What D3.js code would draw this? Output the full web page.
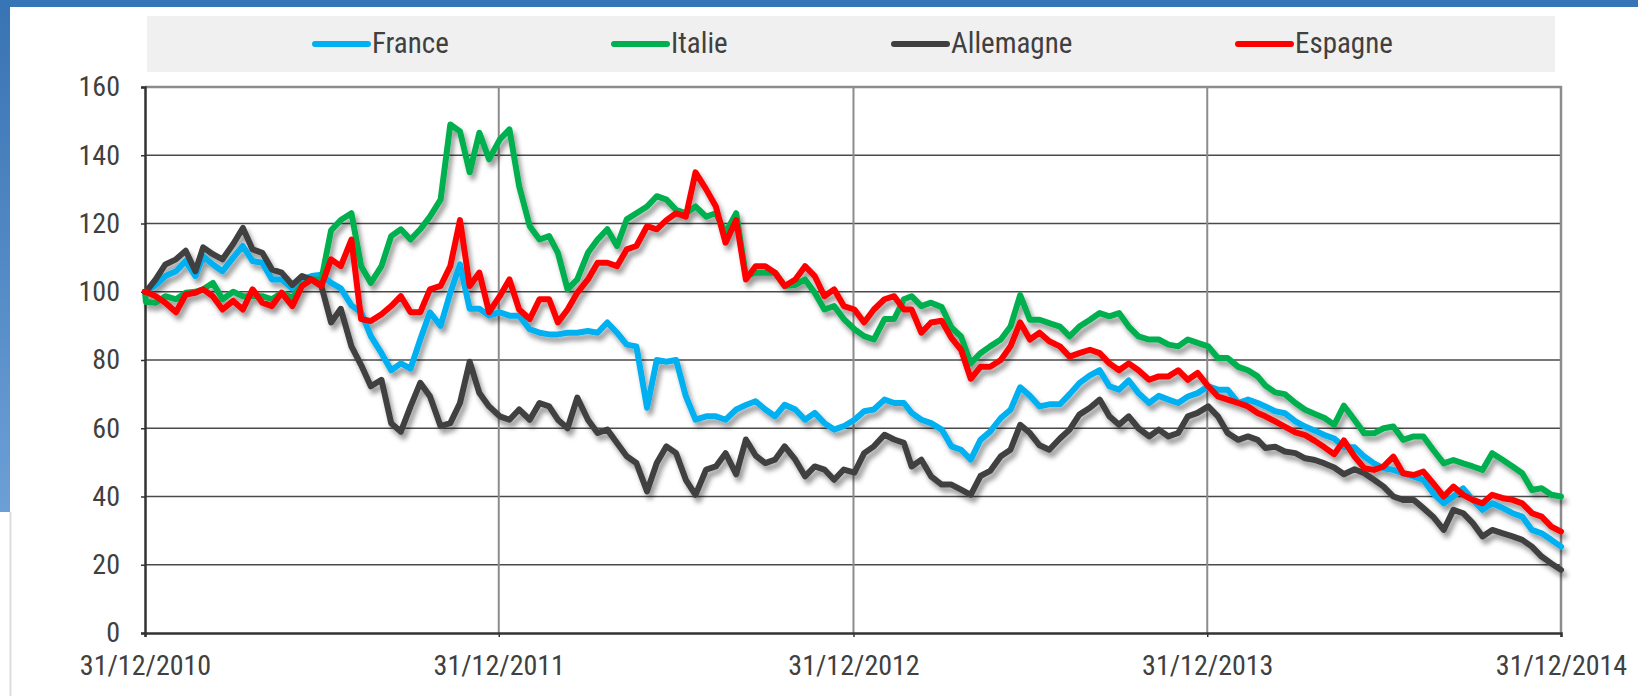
<!DOCTYPE html>
<html>
<head>
<meta charset="utf-8">
<script src="https://cdn.jsdelivr.net/npm/d3@7"></script>
<style>
  body { margin: 0; background: #fff; }
  svg text { font-family: "Liberation Sans Narrow", "Arial Narrow", "Roboto Condensed", sans-serif; fill: #404040; }
</style>
</head>
<body>
<div id="chart"></div>
<script>
// dates of the readings (1st, 11th, 21st of every month)
var dates = [
  "2010-12-31",
  "2011-01-01","2011-01-11","2011-01-21","2011-02-01","2011-02-11","2011-02-21","2011-03-01","2011-03-11","2011-03-21",
  "2011-04-01","2011-04-11","2011-04-21","2011-05-01","2011-05-11","2011-05-21","2011-06-01","2011-06-11","2011-06-21",
  "2011-07-01","2011-07-11","2011-07-21","2011-08-01","2011-08-11","2011-08-21","2011-09-01","2011-09-11","2011-09-21",
  "2011-10-01","2011-10-11","2011-10-21","2011-11-01","2011-11-11","2011-11-21","2011-12-01","2011-12-11","2011-12-21",
  "2012-01-01","2012-01-11","2012-01-21","2012-02-01","2012-02-11","2012-02-21","2012-03-01","2012-03-11","2012-03-21",
  "2012-04-01","2012-04-11","2012-04-21","2012-05-01","2012-05-11","2012-05-21","2012-06-01","2012-06-11","2012-06-21",
  "2012-07-01","2012-07-11","2012-07-21","2012-08-01","2012-08-11","2012-08-21","2012-09-01","2012-09-11","2012-09-21",
  "2012-10-01","2012-10-11","2012-10-21","2012-11-01","2012-11-11","2012-11-21","2012-12-01","2012-12-11","2012-12-21",
  "2013-01-01","2013-01-11","2013-01-21","2013-02-01","2013-02-11","2013-02-21","2013-03-01","2013-03-11","2013-03-21",
  "2013-04-01","2013-04-11","2013-04-21","2013-05-01","2013-05-11","2013-05-21","2013-06-01","2013-06-11","2013-06-21",
  "2013-07-01","2013-07-11","2013-07-21","2013-08-01","2013-08-11","2013-08-21","2013-09-01","2013-09-11","2013-09-21",
  "2013-10-01","2013-10-11","2013-10-21","2013-11-01","2013-11-11","2013-11-21","2013-12-01","2013-12-11","2013-12-21",
  "2014-01-01","2014-01-11","2014-01-21","2014-02-01","2014-02-11","2014-02-21","2014-03-01","2014-03-11","2014-03-21",
  "2014-04-01","2014-04-11","2014-04-21","2014-05-01","2014-05-11","2014-05-21","2014-06-01","2014-06-11","2014-06-21",
  "2014-07-01","2014-07-11","2014-07-21","2014-08-01","2014-08-11","2014-08-21","2014-09-01","2014-09-11","2014-09-21",
  "2014-10-01","2014-10-11","2014-10-21","2014-11-01","2014-11-11","2014-11-21","2014-12-01","2014-12-11","2014-12-21",
  "2014-12-31"
];

var france = [
  100,
  100,102,104.6, 106,109,104.6, 110.4,108,106, 110,113.4,109, 108.5,103.6,103.6, 101,103.6,104.6,
  105,102.6,101, 96,94,87, 82,77,79, 77.5,86,94, 90,99.7,108, 95,95,93,
  94,93,93, 89,88,87.5, 87.5,88,88, 88.5,88,91, 88,84.5,84, 66,80,79.5,
  80,69.4,62.5, 63.5,63.5,62.5, 65.5,66.8,67.9, 65.5,63.5,66.9, 65.5,62.5,64.5, 61.5,59.6,60.6,
  62.5,65,65.5, 68.4,67.4,67.4, 64.5,62.5,61.5, 59.6,54.7,53.7, 50.8,56.6,59, 63,65.4,72,
  69.5,66.4,67, 67,70,73.2, 75.5,77,72.3, 71.3,74,70.3, 67.4,69.5,68.4, 67.4,69.3,70.3,
  72.3,71.3,71.3, 67.4,68.4,67.4, 66.4,65,64.4, 62,60.5,59.3, 58,57,54.5, 54.4,51.7,49.7,
  48.3,47.8,46.8, 45.8,44.9,41, 38,40,42.4, 39,36.1,38, 36.6,35.1,34.1, 30.2,29.2,27.3,
  25.3
];

var italie = [
  100,
  97,96.8,98.7, 97.8,99.7,100, 100.7,102.6,97.8, 100,98.7,98.7, 98.7,97.8,99.7, 98.2,102,103.6,
  103.6,118,121, 123,107.5,102.6, 107.5,116.3,118.3, 115.3,118.3,122, 127,149,147, 135,146.6,138.8,
  144.6,147.6,131, 119.2,115.3,116.3, 111.4,100.7,103.6, 111.4,115.3,118.3, 113.4,121.2,123, 125,128,127,
  124,123,125, 122,123,117.3, 123,104.6,105.6, 105.6,105.6,101.7, 102,103.6,99.7, 94.8,95.8,92,
  89,87,86, 92,92,97.8, 98.7,95.8,96.8, 95.5,89.5,86.9, 79,82,84, 86,89.8,99,
  91.8,91.8,90.8, 89.8,86.9,89.8, 91.8,93.75,92.8, 93.75,89.8,86.9, 86,86,84.5, 84,86,85,
  84,80.6,80.6, 78,77,75.2, 72.5,70.5,70, 67.4,65.4,64.2, 63,61,66.6, 62.4,58.5,58.5,
  60,60.5,56.6, 57.6,57.6,53.7, 49.7,50.7,49.7, 48.8,47.8,52.7, 50.7,48.8,46.8, 41.9,42.4,40.5,
  40
];

var allemagne = [
  100,
  100,103.6,108, 109.5,112,106, 113,111,109.5, 114,118.7,112.4, 111.4,106.5,105.6, 102,104.6,103.6,
  101.7,91,95, 84,78.5,72.3, 74.2,61.5,59, 66.4,73.3,69.4, 60.6,61.5,67.4, 79.5,70.3,66.4,
  63.5,62.5,65.5, 62.5,67.4,66.4, 62.5,60,69, 62.5,58.6,59.6, 55.7,51.8,49.8, 41.5,49.8,54.7,
  52.7,44.9,40.5, 47.9,48.8,52.7, 46.5,56.7,52, 49.8,50.8,54.7, 50.8,45.9,48.8, 47.9,44.9,47.9,
  47,52.7,54.7, 58.1,56.7,55.7, 48.8,50.8,45.9, 43.5,43.5,42, 40.5,46,47.5, 51.8,53.7,61,
  58.6,55,53.7, 57,59.6,64, 66,68.4,63.5, 61,63.5,60, 57.6,59.6,57.6, 58.6,63.5,64.5,
  66.4,63.5,58.6, 56.6,57.6,56.6, 54.2,54.6,53.2, 52.7,51.2,50.7, 49.7,48.5,46.5, 48,46.8,44.9,
  42.9,40,39, 39,36.6,34.1, 30.2,36.1,35.1, 32.2,28.3,30.2, 29.2,28.3,27.3, 25.3,22.4,20.4,
  18.5
];

var espagne = [
  100,
  100,98.7,96.8, 94,99.2,99.7, 100.7,98.7,94.8, 97.3,94.8,100.7, 96.8,95.8,99.7, 95.8,101.7,103.6,
  101.7,109.5,107.5, 115.3,92,91.4, 93.4,95.8,98.7, 94,94,100.7, 101.7,107.5,121, 101.7,105.6,94,
  98.7,103.6,94.8, 92,97.8,97.8, 91,94.8,99.7, 103.6,108.5,108.5, 107.5,112.4,113.4, 119.2,118.3,121,
  123,122,135, 130,125,114.4, 121,103.6,107.5, 107.5,105.6,101.7, 103.6,107.5,104.6, 98.7,100.7,95.8,
  94.8,91,94.8, 97.8,98.7,94.8, 94.8,88,91, 91.5,86.5,83, 74.5,78,78, 80,84,91,
  86,88,85.5, 84,81,82, 83,82,79, 77,79,77, 74.2,75.2,75.2, 77,74.2,76.2,
  72.3,69.3,68.4, 67.4,66.4,64.5, 63.5,62,60.5, 58.8,58,56.3, 54.4,52.4,56.4, 51.7,48.3,47.8,
  48.8,51.7,46.8, 46.3,47.3,43.9, 40,42.9,40.5, 39,38,40.5, 39.5,39,38, 35.1,34.1,31.2,
  29.7
];

var seriesNames  = ["France", "Italie", "Allemagne", "Espagne"];
var seriesColors = ["#00b0f0", "#00b050", "#404040", "#ff0000"];
var yTicks = [0, 20, 40, 60, 80, 100, 120, 140, 160];
var xTicks = ["2010-12-31", "2011-12-31", "2012-12-31", "2013-12-31", "2014-12-31"];

var W = 1638, H = 696;
var plot = {left: 145, right: 1561, top: 87, bottom: 633};

var parse = d3.timeParse("%Y-%m-%d");
var fmt = d3.timeFormat("%d/%m/%Y");
var values = [france, italie, allemagne, espagne];

var series = seriesNames.map(function(name, i) {
  return {
    name: name,
    color: seriesColors[i],
    points: dates.map(function(d, k) { return {date: parse(d), value: values[i][k]}; })
  };
});

var svg = d3.select("#chart").append("svg")
    .attr("width", W)
    .attr("height", H);

// shadow under the lines
var defs = svg.append("defs");
var shadow = defs.append("filter")
    .attr("id", "shadow")
    .attr("x", "-5%").attr("y", "-5%")
    .attr("width", "110%").attr("height", "115%");
shadow.append("feDropShadow")
    .attr("dx", 3).attr("dy", 5)
    .attr("stdDeviation", 2.5)
    .attr("flood-color", "#000")
    .attr("flood-opacity", 0.4);

var grad = defs.append("linearGradient")
    .attr("id", "sideBlue")
    .attr("x1", 0).attr("y1", 0).attr("x2", 0).attr("y2", 1);
grad.append("stop").attr("offset", "0%").attr("stop-color", "#3873b3");
grad.append("stop").attr("offset", "100%").attr("stop-color", "#6c9fd6");

// page frame (blue bar on top, fading bar on the left)
svg.append("rect").attr("x", 0).attr("y", 0).attr("width", 10).attr("height", 512).attr("fill", "url(#sideBlue)");
svg.append("line")
    .attr("x1", 10.5).attr("x2", 10.5).attr("y1", 512).attr("y2", H)
    .attr("stroke", "#dcdcdc").attr("stroke-width", 2);
svg.append("rect").attr("x", 0).attr("y", 0).attr("width", W).attr("height", 7).attr("fill", "#3776b6");

var x = d3.scaleTime()
    .domain([parse(xTicks[0]), parse(xTicks[xTicks.length - 1])])
    .range([plot.left, plot.right]);

var y = d3.scaleLinear()
    .domain([0, 160])
    .range([plot.bottom, plot.top]);

// Legend
var legend = svg.append("g");
legend.append("rect")
    .attr("x", 147).attr("y", 16)
    .attr("width", 1408).attr("height", 56)
    .attr("fill", "#f0f0f0");

var legendX = [315, 614, 894, 1238];
series.forEach(function(s, i) {
  legend.append("line")
      .attr("x1", legendX[i]).attr("x2", legendX[i] + 53)
      .attr("y1", 44).attr("y2", 44)
      .attr("stroke", s.color)
      .attr("stroke-width", 6)
      .attr("stroke-linecap", "round");
  legend.append("text")
      .attr("x", legendX[i] + 57)
      .attr("y", 53)
      .style("font-size", "29px")
      .text(s.name);
});

// grid
var g = svg.append("g");

g.selectAll(".hgrid")
    .data(yTicks.filter(function(v) { return v > 0 && v < 160; }))
    .enter().append("line")
    .attr("class", "hgrid")
    .attr("x1", plot.left).attr("x2", plot.right)
    .attr("y1", function(d) { return y(d); })
    .attr("y2", function(d) { return y(d); })
    .attr("stroke", "#4a4a4a")
    .attr("stroke-width", 1.3);

g.selectAll(".vgrid")
    .data(xTicks.slice(1, -1))
    .enter().append("line")
    .attr("class", "vgrid")
    .attr("x1", function(d) { return x(parse(d)); })
    .attr("x2", function(d) { return x(parse(d)); })
    .attr("y1", plot.top).attr("y2", plot.bottom)
    .attr("stroke", "#8c8c8c")
    .attr("stroke-width", 2);

// top and right border
g.append("path")
    .attr("d", "M" + plot.left + "," + plot.top + "H" + plot.right + "V" + plot.bottom)
    .attr("fill", "none")
    .attr("stroke", "#8c8c8c")
    .attr("stroke-width", 2.5);

// Y axis
var yAxis = g.append("g")
    .attr("transform", "translate(" + plot.left + ",0)")
    .call(d3.axisLeft(y).tickValues(yTicks).tickSize(4).tickPadding(21));
yAxis.select(".domain").attr("stroke", "#333").attr("stroke-width", 2.5);
yAxis.selectAll(".tick line").attr("stroke", "#333").attr("stroke-width", 1.5);
yAxis.selectAll(".tick text")
    .style("font-size", "28px")
    .attr("fill", "#404040");

// X axis
var xAxis = g.append("g")
    .attr("transform", "translate(0," + plot.bottom + ")")
    .call(d3.axisBottom(x)
      .tickValues(xTicks.map(parse))
      .tickFormat(fmt)
      .tickSize(4)
      .tickPadding(18));
xAxis.select(".domain").attr("stroke", "#333").attr("stroke-width", 2.5);
xAxis.selectAll(".tick line").attr("stroke", "#333").attr("stroke-width", 1.5);
xAxis.selectAll(".tick text")
    .style("font-size", "28px")
    .attr("fill", "#404040");

// Lines
var line = d3.line()
    .x(function(d) { return x(d.date); })
    .y(function(d) { return y(d.value); });

svg.append("g")
    .attr("filter", "url(#shadow)")
    .selectAll(".serie")
    .data(series)
    .enter().append("path")
    .attr("class", "serie")
    .attr("d", function(d) { return line(d.points); })
    .attr("fill", "none")
    .attr("stroke", function(d) { return d.color; })
    .attr("stroke-width", 6)
    .attr("stroke-linejoin", "round")
    .attr("stroke-linecap", "round");
</script>
</body>
</html>
